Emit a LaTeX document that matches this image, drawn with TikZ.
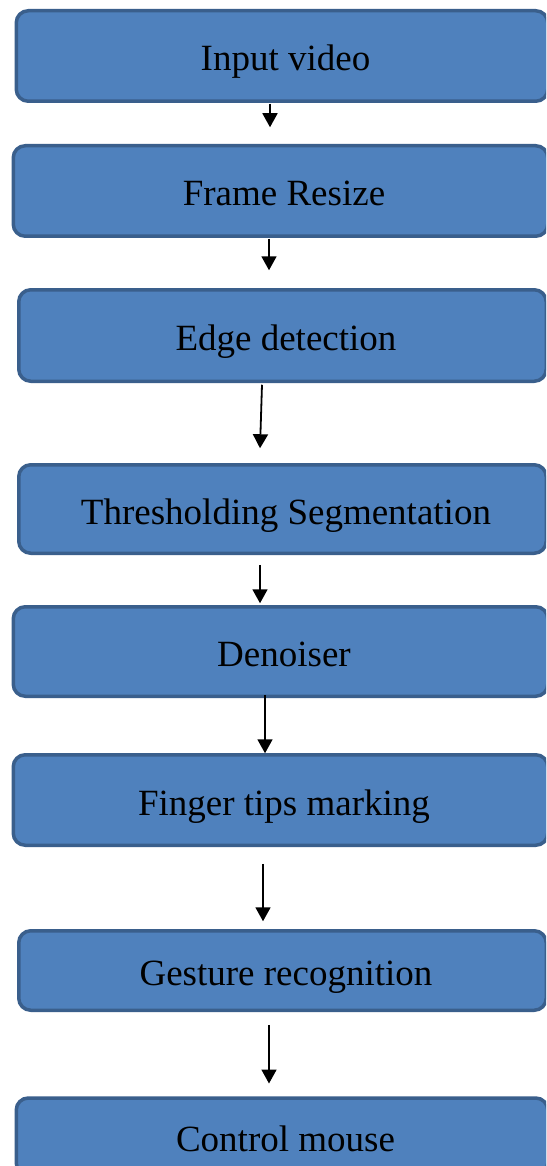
\documentclass[tikz,border=0pt]{standalone}
\usepackage{fontspec}
\setmainfont{Liberation Serif}
\usetikzlibrary{arrows.meta,calc}
\definecolor{stagefill}{HTML}{4F81BD}
\definecolor{stageline}{HTML}{3A5F8C}
\tikzset{
  stagebox/.style={draw=stageline, fill=stagefill, line width=3.5pt,
    rounded corners=12pt, minimum width=531.5pt, minimum height=90.5pt,
    inner sep=0pt, text height=38pt, text depth=8pt,
    execute at begin node={\hspace*{7pt}},
    font=\fontsize{37}{44}\selectfont, text=black},
  flow/.style={draw=black, line width=1.8pt,
    -{Triangle[width=15pt,length=14pt]}}
}
\begin{document}
\begin{tikzpicture}[x=1pt,y=-1pt]
  \clip (0,0) rectangle (546,1166);
  \fill[white] (0,0) rectangle (546,1166);

  % processing stages
  \node[stagebox] (b1) at (282,56) {Input video};
  \node[stagebox, minimum width=534.5pt] (b2) at (280.5,191) {Frame Resize};
  \node[stagebox, minimum width=527.5pt, minimum height=91.5pt] (b3) at (282.5,335.5) {Edge detection};
  \node[stagebox, minimum width=527.5pt, minimum height=88.5pt] (b4) at (282.5,509) {Thresholding Segmentation};
  \node[stagebox, minimum width=534.5pt, minimum height=89.5pt] (b5) at (280.5,651.5) {Denoiser};
  \node[stagebox, minimum width=534.5pt] (b6) at (280.5,800) {Finger tips marking};
  \node[stagebox, minimum width=527.5pt, minimum height=79.5pt] (b7) at (282.5,970.5) {Gesture recognition};
  \node[stagebox, minimum height=77pt] (b8) at (282,1136.5) {Control mouse};

  % flow between stages
  \draw[flow] ($(b1.south)+(-12,0.75)$) -- ($(b2.north)+(-10.5,-16.75)$);
  \draw[flow] ($(b2.south)+(-11.5,0.75)$) -- ($(b3.north)+(-13.5,-17.75)$);
  \draw[flow] ($(b3.south)+(-20.5,1.75)$) -- ($(b4.north)+(-22.5,-14.75)$);
  \draw[flow] ($(b4.south)+(-22.5,9.75)$) -- ($(b5.north)+(-20.5,-1.75)$);
  \draw[flow] ($(b5.south)+(-15.5,-3.25)$) -- ($(b6.north)+(-15.5,0.25)$);
  \draw[flow] ($(b6.south)+(-17.5,16.75)$) -- ($(b7.north)+(-19.5,-7.75)$);
  \draw[flow] ($(b7.south)+(-13.5,12.75)$) -- ($(b8.north)+(-13,-12.75)$);
\end{tikzpicture}
\end{document}
